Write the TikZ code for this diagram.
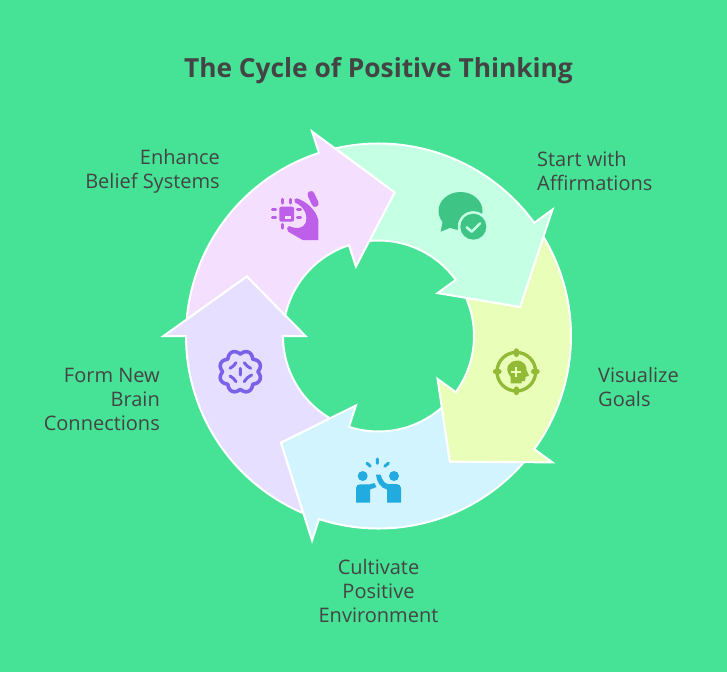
\documentclass[tikz,border=0pt]{standalone}
\usepackage{fontspec}
\setmainfont{Open Sans}
\usetikzlibrary{backgrounds}
\definecolor{bgGreen}{HTML}{46E296}
\definecolor{mintFill}{HTML}{C5FFE4}
\definecolor{limeFill}{HTML}{E9FFB9}
\definecolor{skyFill}{HTML}{D2F4FF}
\definecolor{violetFill}{HTML}{E6DFFF}
\definecolor{pinkFill}{HTML}{F5DFFF}
\definecolor{mintIcon}{HTML}{3EC485}
\definecolor{limeIcon}{HTML}{93BA36}
\definecolor{skyIcon}{HTML}{21ABDE}
\definecolor{violetIcon}{HTML}{7B61E8}
\definecolor{pinkIcon}{HTML}{BD5FE8}
\definecolor{labelGrey}{HTML}{444444}
\tikzset{
  pixel/.style={shift={(-378.5,336)},yscale=-1},
  arrowpart/.style={draw=white,line width=2pt,line join=miter,miter limit=10},
  label/.style={text=labelGrey,inner sep=0pt,font=\fontsize{20}{24}\selectfont},
  iconline/.style={line width=#1,line cap=round,line join=round}
}

\begin{document}
\begin{tikzpicture}[x=1pt,y=1pt]
  \useasboundingbox (-378.5,-336) rectangle (348.5,336);
  \fill[bgGreen] (-378.5,-336) rectangle (348.5,336);

  \draw[arrowpart,fill=violetFill] (-113:192.5pt) arc[start angle=-113,end angle=-180,radius=192.5pt] -- (180:215pt) -- (155.6:144.5pt) -- (180:73pt) -- (180:95.5pt) arc[start angle=-180,end angle=-120.35,radius=95.5pt] -- (-132.4:144.5pt) -- cycle;
  \draw[arrowpart,fill=skyFill] (-41:192.5pt) arc[start angle=-41,end angle=-108,radius=192.5pt] -- (-108:215pt) -- (-132.4:144.5pt) -- (-108:73pt) -- (-108:95.5pt) arc[start angle=-108,end angle=-48.35,radius=95.5pt] -- (-60.4:144.5pt) -- cycle;
  \draw[arrowpart,fill=limeFill] (31:192.5pt) arc[start angle=31,end angle=-36,radius=192.5pt] -- (-36:215pt) -- (-60.4:144.5pt) -- (-36:73pt) -- (-36:95.5pt) arc[start angle=-36,end angle=23.65,radius=95.5pt] -- (11.6:144.5pt) -- cycle;
  \draw[arrowpart,fill=mintFill] (103:192.5pt) arc[start angle=103,end angle=36,radius=192.5pt] -- (36:215pt) -- (11.6:144.5pt) -- (36:73pt) -- (36:95.5pt) arc[start angle=36,end angle=95.65,radius=95.5pt] -- (83.6:144.5pt) -- cycle;
  \draw[arrowpart,fill=pinkFill] (175:192.5pt) arc[start angle=175,end angle=108,radius=192.5pt] -- (108:215pt) -- (83.6:144.5pt) -- (108:73pt) -- (108:95.5pt) arc[start angle=108,end angle=167.65,radius=95.5pt] -- (155.6:144.5pt) -- cycle;

  \begin{scope}[pixel]
    \node[label,font=\fontsize{26.3}{30}\selectfont\bfseries] (title) at (378.5,70.5) {The Cycle of Positive Thinking};
    \node[label,align=left,anchor=west] (start) at (537,171) {Start with\\Affirmations};
    \node[label,align=left,anchor=west] (visualize) at (598,387) {Visualize\\Goals};
    \node[label,align=center] (cultivate) at (378.5,591) {Cultivate\\Positive\\Environment};
    \node[label,align=right,anchor=east] (form) at (160,399) {Form New\\Brain\\Connections};
    \node[label,align=right,anchor=east] (enhance) at (220,171) {Enhance\\Belief Systems};

    \fill[mintIcon] (460.5,211) ellipse[x radius=22,y radius=19];
    \fill[mintIcon] (443.3,218) -- (440.7,231.7) -- (456.7,225) -- cycle;
    \fill[mintFill] (473.3,226.7) circle[radius=15.5];
    \fill[mintIcon] (473.3,226.7) circle[radius=13];
    \draw[mintFill,iconline=2.5pt] (466.7,227.3) -- (471.7,231.7) -- (480,223.3);

    \draw[limeIcon,iconline=3.3pt] (516.3,371.7) circle[radius=19.3];
    \draw[limeIcon,iconline=5pt] (516.3,350.8) -- (516.3,354.5) (516.3,392.6) -- (516.3,388.9) (495.4,371.7) -- (499.1,371.7) (537.2,371.7) -- (533.5,371.7);
    \fill[limeIcon] (510.7,383.3) -- (510.7,377) .. controls (503,368) and (510,360.5) .. (516.5,360.5) .. controls (524,360.5) and (527,366) .. (526.5,370) -- (529,375.5) -- (525.5,377) -- (525,381) -- (521.7,381) -- (521.7,383.3) -- cycle;
    \draw[limeFill,line width=2pt] (516.3,366.7) -- (516.3,376.7) (511.3,371.7) -- (521.3,371.7);

    \draw[skyIcon,iconline=3pt] (377.3,459) -- (377.3,463.3) (367,463.2) -- (370.3,466.2) (388.4,463.2) -- (384.8,466.2);
    \fill[skyIcon] (362.7,476) circle[radius=5] (394,476) circle[radius=5];
    \fill[skyIcon] (356,502.7) -- (356,488) .. controls (356,485.5) and (358,484.3) .. (360,484.3) -- (370,484.3) -- (374.5,483) -- (376.5,487) -- (370,489.5) -- (370,502.7) -- cycle;
    \fill[skyIcon] (401,502.7) -- (401,488) .. controls (401,485.5) and (399,484) .. (396.5,484) -- (388,484) .. controls (384,483.5) and (382,479) .. (380.5,474.5) -- (376,474.5) .. controls (376.5,481) and (380,488) .. (387,489.5) -- (387,502.7) -- cycle;

    \draw[violetIcon,iconline=3.6pt] plot[samples=145,domain=0:360] ({240.3+(17.6+3.6*abs(sin(4*\x)))*cos(\x)},{371.7+(17.6+3.6*abs(sin(4*\x)))*sin(\x)}) -- cycle;
    \draw[violetIcon,iconline=3pt] (240.3,368.3) -- (240.3,375) (230,368.3) to[bend left=15] (236,362.7) (244.3,362.7) to[bend left=15] (250.7,368.3) (230,376) to[bend right=15] (236,381.7) (244.3,381.7) to[bend right=15] (251.7,375);

    \fill[pinkIcon,rounded corners=2pt] (279.3,206.7) rectangle (294,221.7);
    \fill[pinkFill] (285,216) rectangle (290.7,218.7);
    \draw[pinkIcon,iconline=3.3pt] (282.3,199.5) -- (282.3,203) (290.3,199.5) -- (290.3,203) (272.5,209.7) -- (275.5,209.7) (272.5,217.7) -- (275.5,217.7) (297.5,209.7) -- (300.5,209.7) (297.5,217.7) -- (300.5,217.7) (282.3,224.5) -- (282.3,228);
    \fill[pinkIcon] (296.7,198.3) .. controls (306,201) and (316,210) .. (318.3,220) -- (318.3,240) -- (302.7,240) -- (288.3,231.7) .. controls (286.5,230) and (286.5,226.5) .. (289,226) .. controls (297,229.5) and (303.3,228.3) .. (305.5,223) .. controls (308,216) and (305,207) .. (295,202.5) .. controls (293.5,200.5) and (294.5,198) .. (296.7,198.3) -- cycle;
    \draw[pinkIcon,iconline=7pt] (311,194.5) -- (315.2,203.5);
  \end{scope}
\end{tikzpicture}
\end{document}
